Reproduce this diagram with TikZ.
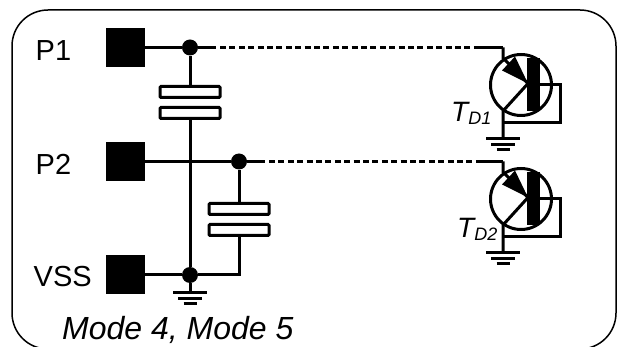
\documentclass[tikz,border=0pt]{standalone}
\usepackage{fontspec}
\setmainfont{Liberation Sans}
\usetikzlibrary{positioning, calc}

\begin{document}
\begin{tikzpicture}[
    x=1pt, y=-1pt,
    wire/.style={line width=3pt},
    dotwire/.style={line width=3.4pt, dash pattern=on 6pt off 3.4pt},
    pad/.style={fill=black, minimum size=39pt, inner sep=0pt},
    dot/.style={circle, fill=black, minimum size=16pt, inner sep=0pt},
    plate/.style={draw, line width=3pt, fill=white, rounded corners=1pt, minimum width=60pt, minimum height=11pt, inner sep=0pt},
    device/.style={circle, draw, line width=3pt, minimum size=61pt, inner sep=0pt},
    gate/.style={fill=black, minimum width=13pt, minimum height=53pt, inner sep=0pt},
    label/.style={font=\fontsize{29}{29}\selectfont, anchor=base west, inner sep=0pt},
    tag/.style={font=\fontsize{28}{28}\selectfont\itshape, anchor=base west, inner sep=0pt},
    gnd/.pic={
        \draw[line width=3pt] (-17,0) -- (17,0);
        \draw[line width=3pt] (-12,5.5) -- (12,5.5);
        \draw[line width=3pt] (-6.5,11) -- (6.5,11);
    }
]
    \useasboundingbox (0,0) rectangle (619,347);

    % Border
    \draw[line width=1.5pt, rounded corners=36pt] (12,349) -- (12,10) -- (616,10) -- (616,349) -- cycle;

    % Pads
    \node[pad] (p1) at (125.5,47.5) {};
    \node[pad] (p2) at (125.5,161.5) {};
    \node[pad] (vss) at (125.5,275) {};
    \node[label] (lp1) at (35.5,61) {P1};
    \node[label] (lp2) at (35.5,175) {P2};
    \node[label] (lvss) at (33.5,287) {VSS};
    \node[label, font=\fontsize{32}{32}\selectfont\itshape] (mode) at (62,340) {Mode 4, Mode 5};

    % Junctions
    \node[dot] (j1) at (190,47.5) {};
    \node[dot] (j2) at (239,161.5) {};
    \node[dot] (j3) at (190,275) {};
    \coordinate (corner) at (239,275);
    \coordinate (g3) at (190,293);
    \pic at (g3) {gnd};

    % Capacitors
    \node[plate] (c1a) at (190,92) {};
    \node[plate, below=7pt of c1a] (c1b) {};
    \node[plate] (c2a) at (239,209) {};
    \node[plate, below=7pt of c2a] (c2b) {};

    % Transistors
    \foreach \name/\yy in {t1/85, t2/199} {
        \node[device] (\name) at (521,\yy) {};
        \node[gate] (\name g) at (533.5,\yy-0.5) {};
        \coordinate (\name top) at (503,\yy-37.5);
        \coordinate (\name k) at (503,\yy-27);
        \coordinate (\name c) at (528,\yy-1.5);
        \coordinate (\name d) at (503,\yy+26);
        \coordinate (\name f) at (503,\yy+38);
        \coordinate (\name s) at (560,\yy-0.5);
        \coordinate (\name r) at (560,\yy+38);
        \coordinate (\name b) at (503,\yy+54);
        \coordinate (\name p) at (502,\yy-14.5);
        \coordinate (\name q) at (515,\yy-28.5);
        \fill (\name c) -- (\name p) -- (\name q) -- cycle;
        \draw[wire] (\name top) -- (\name k) -- (\name c) -- (\name d) -- (\name b);
        \draw[wire] (\name g) -- (\name s) -- (\name r) -- (\name f);
        \pic at (\name b) {gnd};
    }
    \node[tag] (td1) at (451,122) {T\raisebox{-3pt}{\fontsize{18}{18}\selectfont D1}};
    \node[tag] (td2) at (457,238) {T\raisebox{-3pt}{\fontsize{18}{18}\selectfont D2}};

    % Wires
    \coordinate (s1) at (216,47.5);
    \coordinate (s2) at (265,161.5);
    \coordinate (d1) at (220,47.5);
    \coordinate (d2) at (269,161.5);
    \coordinate (t1w) at (477,47.5);
    \coordinate (t2w) at (480,161.5);
    \draw[wire] (p1) -- (j1) -- (s1);
    \draw[wire] (p2) -- (j2) -- (s2);
    \draw[wire] (vss) -- (j3);
    \draw[wire] (j1) -- (c1a);
    \draw[wire] (c1b) -- (j3);
    \draw[wire] (j3) -- (g3);
    \draw[wire] (j2) -- (c2a);
    \draw[wire] (c2b) -- (corner) -- (j3);
    \draw[dotwire] (d1) -- (t1w);
    \draw[dotwire] (d2) -- (t2w);
    \draw[wire] (t1w) -- (t1top);
    \draw[wire] (t2w) -- (t2top);
\end{tikzpicture}
\end{document}
